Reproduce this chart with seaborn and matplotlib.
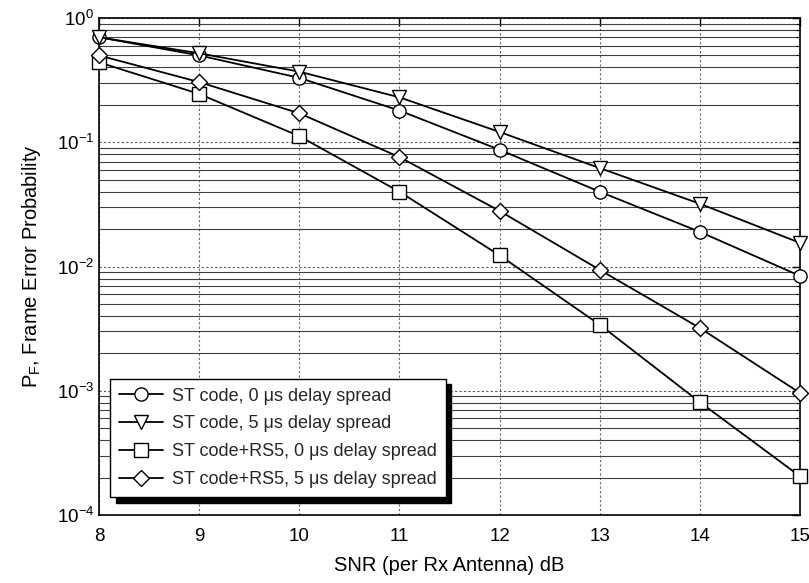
import numpy as np
import pandas as pd
import matplotlib
matplotlib.use("Agg")
import matplotlib.pyplot as plt
import seaborn as sns
from matplotlib.ticker import LogLocator, NullFormatter

snr = [8, 9, 10, 11, 12, 13, 14, 15]
st_0us = [0.70, 0.50, 0.33, 0.18, 0.087, 0.040, 0.019, 0.0084]
st_5us = [0.70, 0.52, 0.37, 0.23, 0.121, 0.062, 0.032, 0.0155]
rs5_0us = [0.44, 0.245, 0.112, 0.040, 0.0123, 0.0034, 0.00081, 0.000205]
rs5_5us = [0.50, 0.305, 0.171, 0.076, 0.028, 0.0094, 0.0032, 0.00096]

labels = ["ST code, 0 \u03bcs delay spread",
          "ST code, 5 \u03bcs delay spread",
          "ST code+RS5, 0 \u03bcs delay spread",
          "ST code+RS5, 5 \u03bcs delay spread"]
markers = ["o", "v", "s", "D"]
series = [st_0us, st_5us, rs5_0us, rs5_5us]

sns.set_theme(style="white")
plt.rcParams['font.family'] = ['Liberation Sans', 'DejaVu Sans']
plt.rcParams['mathtext.fontset'] = 'custom'
plt.rcParams['mathtext.rm'] = 'Liberation Sans'
plt.rcParams['mathtext.it'] = 'Liberation Sans'

fig = plt.figure(figsize=(8.09, 5.83), dpi=100)
ax = fig.add_axes([0.1224, 0.1166, 0.8665, 0.8525])

for lab, mk, vals in zip(labels, markers, series):
    df = pd.DataFrame({"snr": snr, "pfe": vals})
    ms = 8.5 if mk == "D" else 9.5
    sns.lineplot(data=df, x="snr", y="pfe", ax=ax, color="black", marker=mk,
                 markersize=ms, markerfacecolor="white", markeredgecolor="black",
                 markeredgewidth=1.0, linewidth=1.3, label=lab, zorder=5,
                 clip_on=False)

ax.set_yscale("log")
ax.set_xlim(8, 15)
ax.set_ylim(1e-4, 1)
ax.set_xticks(snr)
ax.yaxis.set_major_locator(LogLocator(base=10, numticks=10))
ax.yaxis.set_minor_locator(LogLocator(base=10, subs=np.arange(2, 10), numticks=20))
ax.yaxis.set_minor_formatter(NullFormatter())

ax.grid(True, which="major", axis="y", color="0.35", linestyle=(0, (2, 2)), linewidth=0.8)
ax.grid(True, which="minor", axis="y", color="0.25", linestyle="-", linewidth=0.8)
ax.grid(True, which="major", axis="x", color="0.4", linestyle=(0, (2, 2)), linewidth=0.8)

for sp in ax.spines.values():
    sp.set_color("black")
    sp.set_linewidth(1.2)

ax.tick_params(axis="both", which="both", direction="in", top=True, right=True,
               colors="black", labelsize=13.5)
ax.tick_params(axis="both", which="major", length=6, width=1)
ax.tick_params(axis="y", which="minor", length=3, width=0.8)
ax.tick_params(axis="x", which="major", pad=9)

ax.set_xlabel("SNR (per Rx Antenna) dB", fontsize=14.5, color="black", labelpad=8)
ax.set_ylabel("P$_{\\mathrm{F}}$, Frame Error Probability", fontsize=14.5, color="black", labelpad=10)

leg = ax.legend(loc="lower left", bbox_to_anchor=(0.016, 0.036), borderaxespad=0,
                fontsize=13, frameon=True, fancybox=False, framealpha=1,
                edgecolor="black", handlelength=2.4, handletextpad=0.5,
                labelspacing=0.6, borderpad=0.5,
                shadow={"color": "black", "alpha": 1.0, "ox": 4, "oy": -4})
leg.get_frame().set_linewidth(1.0)
leg.set_zorder(10)

fig.savefig("out.png", dpi=100)
